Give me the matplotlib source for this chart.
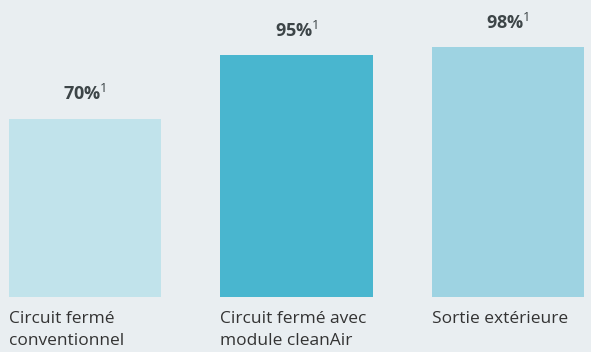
import matplotlib.pyplot as plt

categories = ["Circuit fermé\nconventionnel", "Circuit fermé avec\nmodule cleanAir", "Sortie extérieure"]
values = [70, 95, 98]
value_labels = ["70%", "95%", "98%"]
note = "1"
colors = ["#c1e3eb", "#49b6cf", "#9ed3e2"]

bg = "#e9eef1"
plt.rcParams['font.family'] = ['Open Sans', 'DejaVu Sans']
plt.rcParams['mathtext.fontset'] = 'custom'
plt.rcParams['mathtext.rm'] = 'Open Sans'

fig = plt.figure(figsize=(5.91, 3.52), dpi=100, facecolor=bg)
ax = fig.add_axes([0, 55 / 352, 1, 297 / 352])
ax.set_facecolor(bg)

x = range(len(values))
bars = ax.bar(x, values, width=0.719, color=colors)

ax.set_xlim(-85 / 211.5, 506 / 211.5)
ax.set_ylim(0, 297 / 2.55)
ax.axis('off')

# value on top of each bar, with footnote mark
for xi, v, lab in zip(x, values, value_labels):
    ax.annotate(lab + r"$^{\mathrm{" + note + "}}$", (xi, v), xytext=(0, 13),
                textcoords='offset points', ha='center', va='baseline',
                fontsize=13, fontweight='bold', color='#3d4548')

# category names under the bars, left aligned with the bar edge
for b, name in zip(bars, categories):
    ax.text(b.get_x(), -5.5, name, ha='left', va='top', fontsize=12.5,
            color='#333333', linespacing=1.5, clip_on=False)

fig.savefig('out.png', dpi=100, facecolor=bg)
